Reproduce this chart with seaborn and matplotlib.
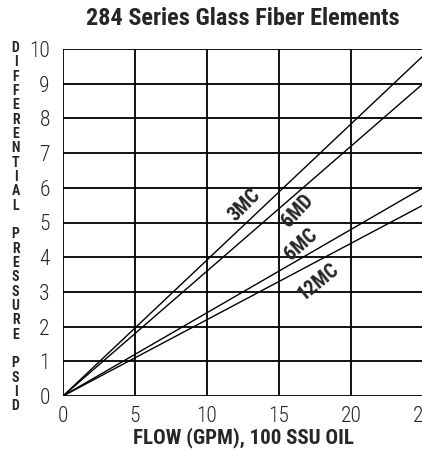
import pandas as pd
import numpy as np
import matplotlib
matplotlib.use("Agg")
import matplotlib.pyplot as plt
import seaborn as sns

# data (straight lines through the origin)
flow = [0, 25]
dp_3mc = [0, 9.8]
dp_6md = [0, 9.0]
dp_6mc = [0, 6.0]
dp_12mc = [0, 5.5]
series_names = ["3MC", "6MD", "6MC", "12MC"]

x_ticks = [0, 5, 10, 15, 20, 25]
y_ticks = [0, 1, 2, 3, 4, 5, 6, 7, 8, 9, 10]

sns.set_theme(style="white")
narrow = ["Roboto Condensed", "DejaVu Sans"]
plt.rcParams["font.family"] = narrow

df = pd.DataFrame({
    "flow": flow * 4,
    "dp": dp_3mc + dp_6md + dp_6mc + dp_12mc,
    "element": np.repeat(series_names, len(flow)),
})

fig = plt.figure(figsize=(4.22, 4.57), dpi=100)
ax = fig.add_axes([63 / 422, 1 - 396 / 457, 360 / 422, 347 / 457])

# grid first, curves on top
for v in x_ticks:
    ax.axvline(v, color="black", lw=1.3, zorder=1)
for h in y_ticks:
    ax.axhline(h, color="black", lw=1.3, zorder=1)

sns.lineplot(data=df, x="flow", y="dp", units="element", estimator=None,
             color="black", lw=1.0, ax=ax, zorder=3)

ax.set_xlim(0, 25)
ax.set_ylim(0, 10)
ax.set_xticks(x_ticks)
ax.set_yticks(y_ticks)
ax.tick_params(axis="y", direction="out", length=7.5, width=1.3, color="black",
               labelsize=15.5, pad=2)
ax.tick_params(axis="x", length=0, labelsize=15.5, pad=7)
for lab in ax.get_xticklabels() + ax.get_yticklabels():
    lab.set_fontweight(300)
for spine in ax.spines.values():
    spine.set_visible(False)
ax.set_xlabel("")
ax.set_ylabel("")

# curve labels sitting along the lines
label_pos = [(12.6, 5.5, 45), (16.3, 5.35, 47), (16.5, 4.35, 42), (17.7, 3.3, 39)]
for name, (lx, ly, rot) in zip(series_names, label_pos):
    ax.text(lx, ly, name, rotation=rot, ha="center", va="center",
            fontsize=14.5, fontweight="bold", zorder=4)

fig.text(0.576, 0.96, "284 Series Glass Fiber Elements", ha="center", va="center",
         fontsize=17.5, fontweight="bold")
fig.text(0.576, 0.043, "FLOW (GPM), 100 SSU OIL", ha="center", va="center",
         fontsize=15, fontweight="bold")

ylab = "\n".join(list("DIFFERENTIAL") + [""] + list("PRESSURE") + [""] + list("PSID"))
fig.text(0.037, 0.503, ylab, ha="center", va="center", fontsize=10,
         fontweight="bold", linespacing=1.03)

fig.savefig("out.png", dpi=100)
